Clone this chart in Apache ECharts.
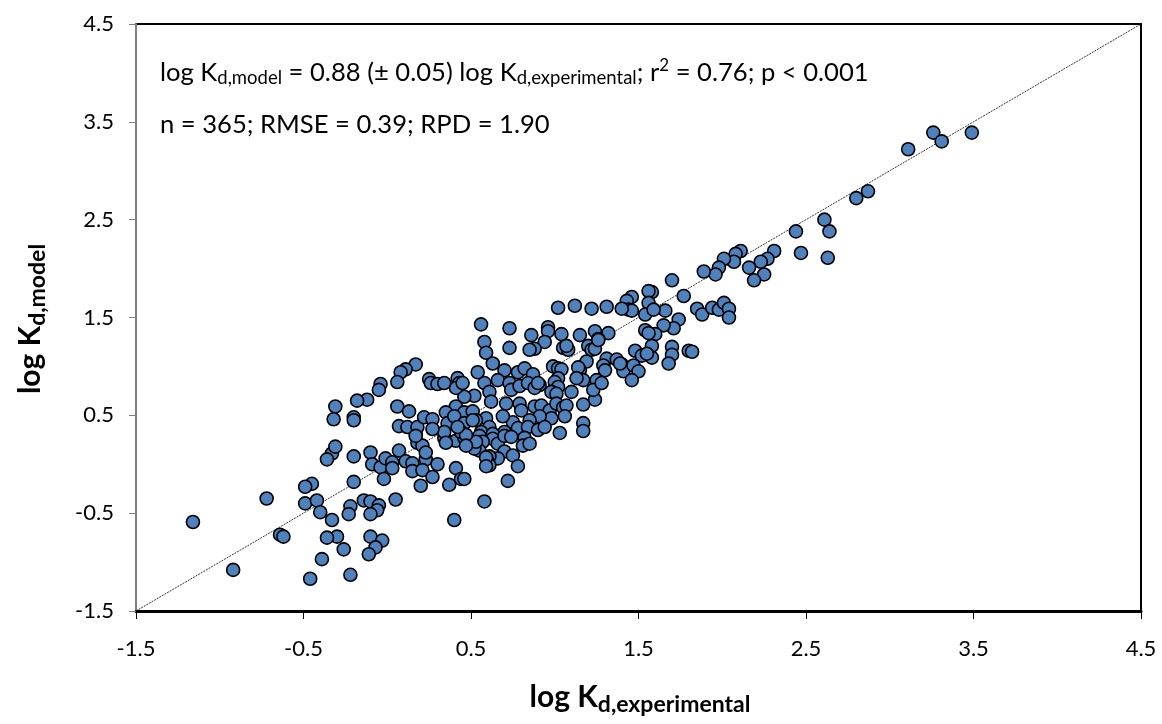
<!DOCTYPE html>
<html>
<head>
<meta charset="utf-8">
<script src="https://cdn.jsdelivr.net/npm/echarts@6/dist/echarts.min.js"></script>
<style>
html,body{margin:0;padding:0;background:#fff;}
#chart{width:1162px;height:724px;}
</style>
</head>
<body>
<div id="chart"></div>
<script>
const kdExperimental = [
3.49,3.26,3.31,3.11,2.87,2.80,2.61,2.64,2.44,2.47,2.63,2.31,2.27,2.23,2.25,2.19,2.16,2.11,2.08,2.07,
2.01,1.98,1.96,1.89,1.70,1.77,1.58,1.56,1.85,1.88,1.94,1.98,2.01,2.04,2.04,1.66,1.74,1.71,1.65,1.60,
1.58,1.70,1.70,1.68,1.80,1.82,1.58,1.46,1.43,1.56,1.44,1.46,1.40,1.54,1.59,1.54,1.56,1.48,1.52,1.55,
1.40,1.41,1.47,1.50,1.46,
1.02,1.12,1.22,1.31,0.56,0.73,0.96,0.96,0.86,1.04,1.15,1.24,1.32,1.26,0.58,0.59,0.73,0.94,0.88,0.85,
1.05,1.08,1.07,1.20,1.22,1.24,1.26,1.31,1.37,1.39,1.29,1.30,1.19,1.15,1.14,1.17,1.25,1.24,1.23,1.28,
0.63,0.70,0.78,0.82,0.87,0.91,0.99,1.02,1.04,1.02,1.00,1.02,0.98,1.01,1.10,1.13,0.66,0.73,0.74,0.79,
0.84,0.88,0.90,0.58,0.61,0.62,0.71,0.79,0.88,0.92,0.97,1.01,1.05,1.07,1.17,1.06,1.17,1.17,1.03,0.98,
0.91,0.85,0.80,0.75,0.69,0.59,0.61,0.70,0.78,0.84,0.90,0.94,0.56,0.63,
0.63,0.66,0.70,0.74,0.82,0.81,0.85,0.70,0.75,0.78,0.66,0.61,0.60,0.61,0.72,0.58,0.55,0.57,0.55,
-0.33,-0.31,-0.20,-0.20,-0.10,-0.09,-0.04,-0.01,0.03,0.03,-0.02,0.07,0.11,0.15,0.15,0.18,0.21,0.23,0.21,0.27,
0.30,0.20,0.17,0.34,0.41,0.46,0.52,0.53,0.59,0.59,0.41,0.44,0.46,0.37,0.40,0.05,-0.14,-0.10,-0.05,-0.06,
-0.10,-0.22,-0.23,-0.33,-0.30,-0.36,-0.10,-0.03,-0.07,-0.11,-0.26,-0.22,
-0.31,-0.32,-0.36,-0.45,-0.49,-0.49,-0.42,-0.40,-0.39,-0.46,-0.72,-0.64,-0.62,-1.16,-0.92,
0.54,0.52,0.46,0.42,0.43,0.41,0.45,0.41,0.46,0.51,0.53,0.25,0.26,0.30,0.34,0.35,0.36,0.40,0.34,0.46,
0.51,0.44,0.47,0.17,0.11,0.08,0.06,-0.04,-0.05,-0.12,-0.18,-0.20,-0.20,0.06,0.13,0.07,0.12,0.18,0.22,0.27,
0.27,0.17,0.23,0.35,0.42,0.47
];
const kdModel = [
3.39,3.39,3.30,3.22,2.79,2.72,2.50,2.38,2.38,2.16,2.11,2.18,2.10,2.07,1.94,1.88,2.01,2.18,2.15,2.07,
2.10,2.01,1.94,1.97,1.88,1.72,1.76,1.77,1.59,1.53,1.60,1.58,1.65,1.59,1.50,1.57,1.48,1.39,1.42,1.33,
1.21,1.20,1.12,1.03,1.16,1.15,1.09,1.71,1.67,1.65,1.58,1.57,1.59,1.53,1.58,1.37,1.34,1.16,1.11,1.13,
1.02,0.95,1.01,0.95,0.86,
1.60,1.62,1.59,1.61,1.43,1.39,1.40,1.36,1.32,1.33,1.32,1.36,1.34,1.28,1.25,1.14,1.19,1.25,1.18,1.17,
1.19,1.17,1.21,1.21,1.17,1.18,1.27,1.08,1.07,1.03,1.01,0.96,1.05,0.96,0.99,0.86,0.86,0.66,0.76,0.83,
1.03,0.96,0.94,0.98,0.92,0.81,1.00,0.98,0.97,0.88,0.84,0.79,0.74,0.72,0.74,0.88,0.86,0.83,0.76,0.80,
0.83,0.78,0.83,0.83,0.74,0.64,0.62,0.62,0.59,0.60,0.55,0.62,0.58,0.60,0.61,0.49,0.42,0.34,0.32,0.47,
0.49,0.45,0.55,0.43,0.49,0.47,0.38,0.33,0.37,0.38,0.35,0.38,0.33,0.31,
0.26,0.21,0.29,0.28,0.27,0.19,0.21,0.13,0.09,-0.02,0.06,0.08,0.03,-0.01,-0.17,-0.38,0.29,0.23,0.14,
0.11,0.18,0.08,-0.18,0.12,0.00,-0.03,0.06,0.02,-0.04,-0.15,0.14,0.03,0.01,-0.07,0.22,0.19,0.05,-0.06,-0.13,
0.00,-0.22,0.31,0.27,0.24,0.27,0.16,0.23,0.07,-0.02,-0.04,-0.15,-0.15,-0.21,-0.57,-0.36,-0.37,-0.38,-0.42,-0.47,
-0.51,-0.43,-0.51,-0.57,-0.74,-0.75,-0.74,-0.78,-0.85,-0.92,-0.87,-1.13,
0.59,0.46,0.05,-0.20,-0.23,-0.40,-0.37,-0.49,-0.97,-1.17,-0.35,-0.72,-0.74,-0.59,-1.08,
0.94,0.70,0.69,0.88,0.83,0.78,0.83,0.59,0.53,0.54,0.45,0.87,0.83,0.82,0.83,0.53,0.42,0.49,0.33,0.42,
0.45,0.33,0.30,1.02,0.97,0.94,0.84,0.82,0.76,0.66,0.65,0.48,0.45,0.59,0.54,0.39,0.38,0.38,0.48,0.46,
0.36,0.29,0.12,0.22,0.38,0.19
];
const axisTicks = [-1.5, -0.5, 0.5, 1.5, 2.5, 3.5, 4.5];
const oneToOneX = [-1.5, 4.5];
const oneToOneY = [-1.5, 4.5];

const points = kdExperimental.map((x, i) => [x, kdModel[i]]);
const refLine = oneToOneX.map((x, i) => [x, oneToOneY[i]]);

const FONT = 'Lato';
const chart = echarts.init(document.getElementById('chart'), null, {renderer: 'canvas'});
chart.setOption({
  backgroundColor: '#ffffff',
  animation: false,
  grid: {left: 136, right: 21, top: 24, bottom: 113, show: true, borderColor: '#000', borderWidth: 2, backgroundColor: 'transparent'},
  xAxis: {
    type: 'value', min: axisTicks[0], max: axisTicks[axisTicks.length - 1], interval: 1,
    splitLine: {show: false},
    axisLine: {show: true, onZero: false, lineStyle: {color: '#000', width: 3}},
    axisTick: {show: true, length: 8, lineStyle: {color: '#000', width: 1}},
    axisLabel: {color: '#000', fontSize: 22, fontFamily: FONT, margin: 27, formatter: v => String(v)}
  },
  yAxis: {
    type: 'value', min: axisTicks[0], max: axisTicks[axisTicks.length - 1], interval: 1,
    splitLine: {show: false},
    axisLine: {show: true, onZero: false, lineStyle: {color: '#808080', width: 2}},
    axisTick: {show: true, length: 7, lineStyle: {color: '#808080', width: 1}},
    axisLabel: {color: '#000', fontSize: 22, fontFamily: FONT, margin: 22, formatter: v => String(v)}
  },
  series: [
    {
      type: 'line', data: refLine, symbol: 'none', silent: true, z: 1,
      lineStyle: {color: '#000', width: 0.8, type: [2, 1]}
    },
    {
      type: 'scatter', data: points, symbol: 'circle', symbolSize: 13, z: 2,
      itemStyle: {color: '#4F81BD', borderColor: '#000', borderWidth: 1.6, opacity: 1}
    }
  ],
  graphic: [
    {
      type: 'text', left: 160, top: 57, z: 10,
      style: {
        text: '{m|log K}{s|d,model}{m| = 0.88 (± 0.05) log K}{s|d,experimental}{m|; r}{p|2}{m| = 0.76; p < 0.001}',
        rich: {
          m: {fontSize: 25.6, fontFamily: FONT, fill: '#000', lineHeight: 31},
          s: {fontSize: 18.5, fontFamily: FONT, fill: '#000', lineHeight: 18, verticalAlign: 'bottom'},
          p: {fontSize: 17, fontFamily: FONT, fill: '#000', lineHeight: 17, verticalAlign: 'top'}
        }
      }
    },
    {
      type: 'text', left: 160, top: 112, z: 10,
      style: {text: 'n = 365; RMSE = 0.39; RPD = 1.90', fontSize: 25.6, fontFamily: FONT, fill: '#000'}
    },
    {
      type: 'text', x: 640, y: 697, z: 10,
      style: {
        text: '{m|log K}{s|d,experimental}',
        align: 'center', verticalAlign: 'middle',
        rich: {
          m: {fontSize: 30, fontWeight: 'bold', fontFamily: FONT, fill: '#000', lineHeight: 38},
          s: {fontSize: 23, fontWeight: 'bold', fontFamily: FONT, fill: '#000', lineHeight: 23, verticalAlign: 'bottom'}
        }
      }
    },
    {
      type: 'text', x: 30, y: 319, rotation: Math.PI / 2, z: 10,
      style: {
        text: '{m|log K}{s|d,model}',
        align: 'center', verticalAlign: 'middle',
        rich: {
          m: {fontSize: 30, fontWeight: 'bold', fontFamily: FONT, fill: '#000', lineHeight: 38},
          s: {fontSize: 23, fontWeight: 'bold', fontFamily: FONT, fill: '#000', lineHeight: 23, verticalAlign: 'bottom'}
        }
      }
    }
  ]
});
</script>
</body>
</html>
